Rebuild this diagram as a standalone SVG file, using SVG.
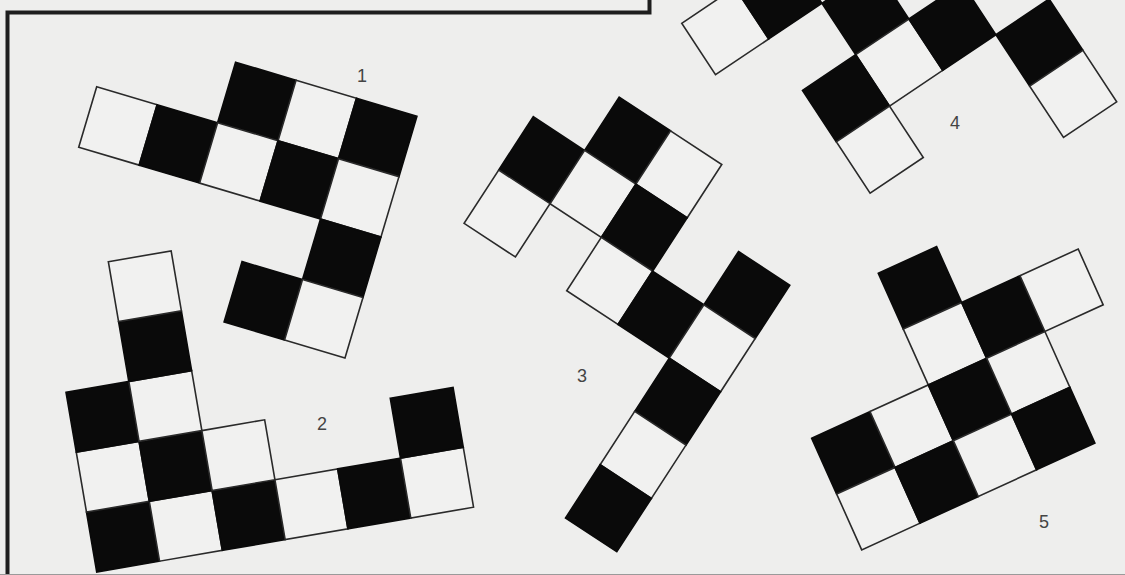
<svg xmlns="http://www.w3.org/2000/svg" width="1125" height="575" viewBox="0 0 1125 575">
<style>
.w{fill:#f1f1f0;stroke:#2a2a2a;stroke-width:1.6;vector-effect:non-scaling-stroke;stroke-linejoin:miter}
.b{fill:#0a0a0a;stroke:#0a0a0a;stroke-width:1.6;vector-effect:non-scaling-stroke}
.frame{fill:none;stroke:#1e1e1e;stroke-width:4;stroke-linecap:square}
.lbl{font-family:"Liberation Sans",Arial,sans-serif;font-size:18px;fill:#444444;text-anchor:middle}
</style>
<rect x="0" y="0" width="1125" height="575" fill="#eeeeed"/>
<g id="frame">
<path class="frame" d="M7.5 575 V12.5 H649.5 V0"/>
<line x1="0" y1="574.5" x2="1125" y2="574.5" stroke="#9a9a9a" stroke-width="1"/>
</g>
<g id="piece1" transform="matrix(60.45 17.99 -17.99 60.45 96.7 86.7)">
<rect class="b" x="2" y="-1" width="1" height="1"/>
<rect class="w" x="3" y="-1" width="1" height="1"/>
<rect class="b" x="4" y="-1" width="1" height="1"/>
<rect class="w" x="0" y="0" width="1" height="1"/>
<rect class="b" x="1" y="0" width="1" height="1"/>
<rect class="w" x="2" y="0" width="1" height="1"/>
<rect class="b" x="3" y="0" width="1" height="1"/>
<rect class="w" x="4" y="0" width="1" height="1"/>
<rect class="b" x="4" y="1" width="1" height="1"/>
<rect class="b" x="3" y="2" width="1" height="1"/>
<rect class="w" x="4" y="2" width="1" height="1"/>
</g>
<g id="piece2" transform="matrix(62.8 -10.8 10.24 59.9 86.5 512.1)">
<rect class="b" x="0" y="0" width="1" height="1"/>
<rect class="w" x="1" y="0" width="1" height="1"/>
<rect class="b" x="2" y="0" width="1" height="1"/>
<rect class="w" x="3" y="0" width="1" height="1"/>
<rect class="b" x="4" y="0" width="1" height="1"/>
<rect class="w" x="5" y="0" width="1" height="1"/>
<rect class="w" x="0" y="-1" width="1" height="1"/>
<rect class="b" x="1" y="-1" width="1" height="1"/>
<rect class="w" x="2" y="-1" width="1" height="1"/>
<rect class="b" x="5" y="-1" width="1" height="1"/>
<rect class="b" x="0" y="-2" width="1" height="1"/>
<rect class="w" x="1" y="-2" width="1" height="1"/>
<rect class="b" x="1" y="-3" width="1" height="1"/>
<rect class="w" x="1" y="-4" width="1" height="1"/>
</g>
<g id="piece3" transform="matrix(51.3 33.7 -34.6 53.3 533.3 116.7)">
<rect class="b" x="0" y="0" width="1" height="1"/>
<rect class="w" x="0" y="1" width="1" height="1"/>
<rect class="b" x="1" y="-1" width="1" height="1"/>
<rect class="w" x="1" y="0" width="1" height="1"/>
<rect class="w" x="2" y="-1" width="1" height="1"/>
<rect class="b" x="2" y="0" width="1" height="1"/>
<rect class="w" x="2" y="1" width="1" height="1"/>
<rect class="b" x="3" y="1" width="1" height="1"/>
<rect class="b" x="4" y="0" width="1" height="1"/>
<rect class="w" x="4" y="1" width="1" height="1"/>
<rect class="b" x="4" y="2" width="1" height="1"/>
<rect class="w" x="4" y="3" width="1" height="1"/>
<rect class="b" x="4" y="4" width="1" height="1"/>
</g>
<g id="piece4" transform="matrix(53.2 -35.7 33.8 51.4 681.7 23.3)">
<rect class="w" x="0" y="0" width="1" height="1"/>
<rect class="b" x="1" y="0" width="1" height="1"/>
<rect class="b" x="2" y="1" width="1" height="1"/>
<rect class="w" x="2" y="2" width="1" height="1"/>
<rect class="b" x="3" y="2" width="1" height="1"/>
<rect class="b" x="1" y="2" width="1" height="1"/>
<rect class="w" x="1" y="3" width="1" height="1"/>
<rect class="b" x="4" y="3" width="1" height="1"/>
<rect class="w" x="4" y="4" width="1" height="1"/>
</g>
<g id="piece5" transform="matrix(58.3 -26.7 25 55.8 878.3 273.3)">
<rect class="b" x="0" y="0" width="1" height="1"/>
<rect class="w" x="0" y="1" width="1" height="1"/>
<rect class="b" x="1" y="1" width="1" height="1"/>
<rect class="w" x="2" y="1" width="1" height="1"/>
<rect class="b" x="-2" y="2" width="1" height="1"/>
<rect class="w" x="-1" y="2" width="1" height="1"/>
<rect class="b" x="0" y="2" width="1" height="1"/>
<rect class="w" x="1" y="2" width="1" height="1"/>
<rect class="w" x="-2" y="3" width="1" height="1"/>
<rect class="b" x="-1" y="3" width="1" height="1"/>
<rect class="w" x="0" y="3" width="1" height="1"/>
<rect class="b" x="1" y="3" width="1" height="1"/>
</g>
<g id="labels">
<text class="lbl" x="362" y="82">1</text>
<text class="lbl" x="322" y="430">2</text>
<text class="lbl" x="582" y="382">3</text>
<text class="lbl" x="955" y="129">4</text>
<text class="lbl" x="1044" y="528">5</text>
</g>
<g id="connectors"/>
</svg>
